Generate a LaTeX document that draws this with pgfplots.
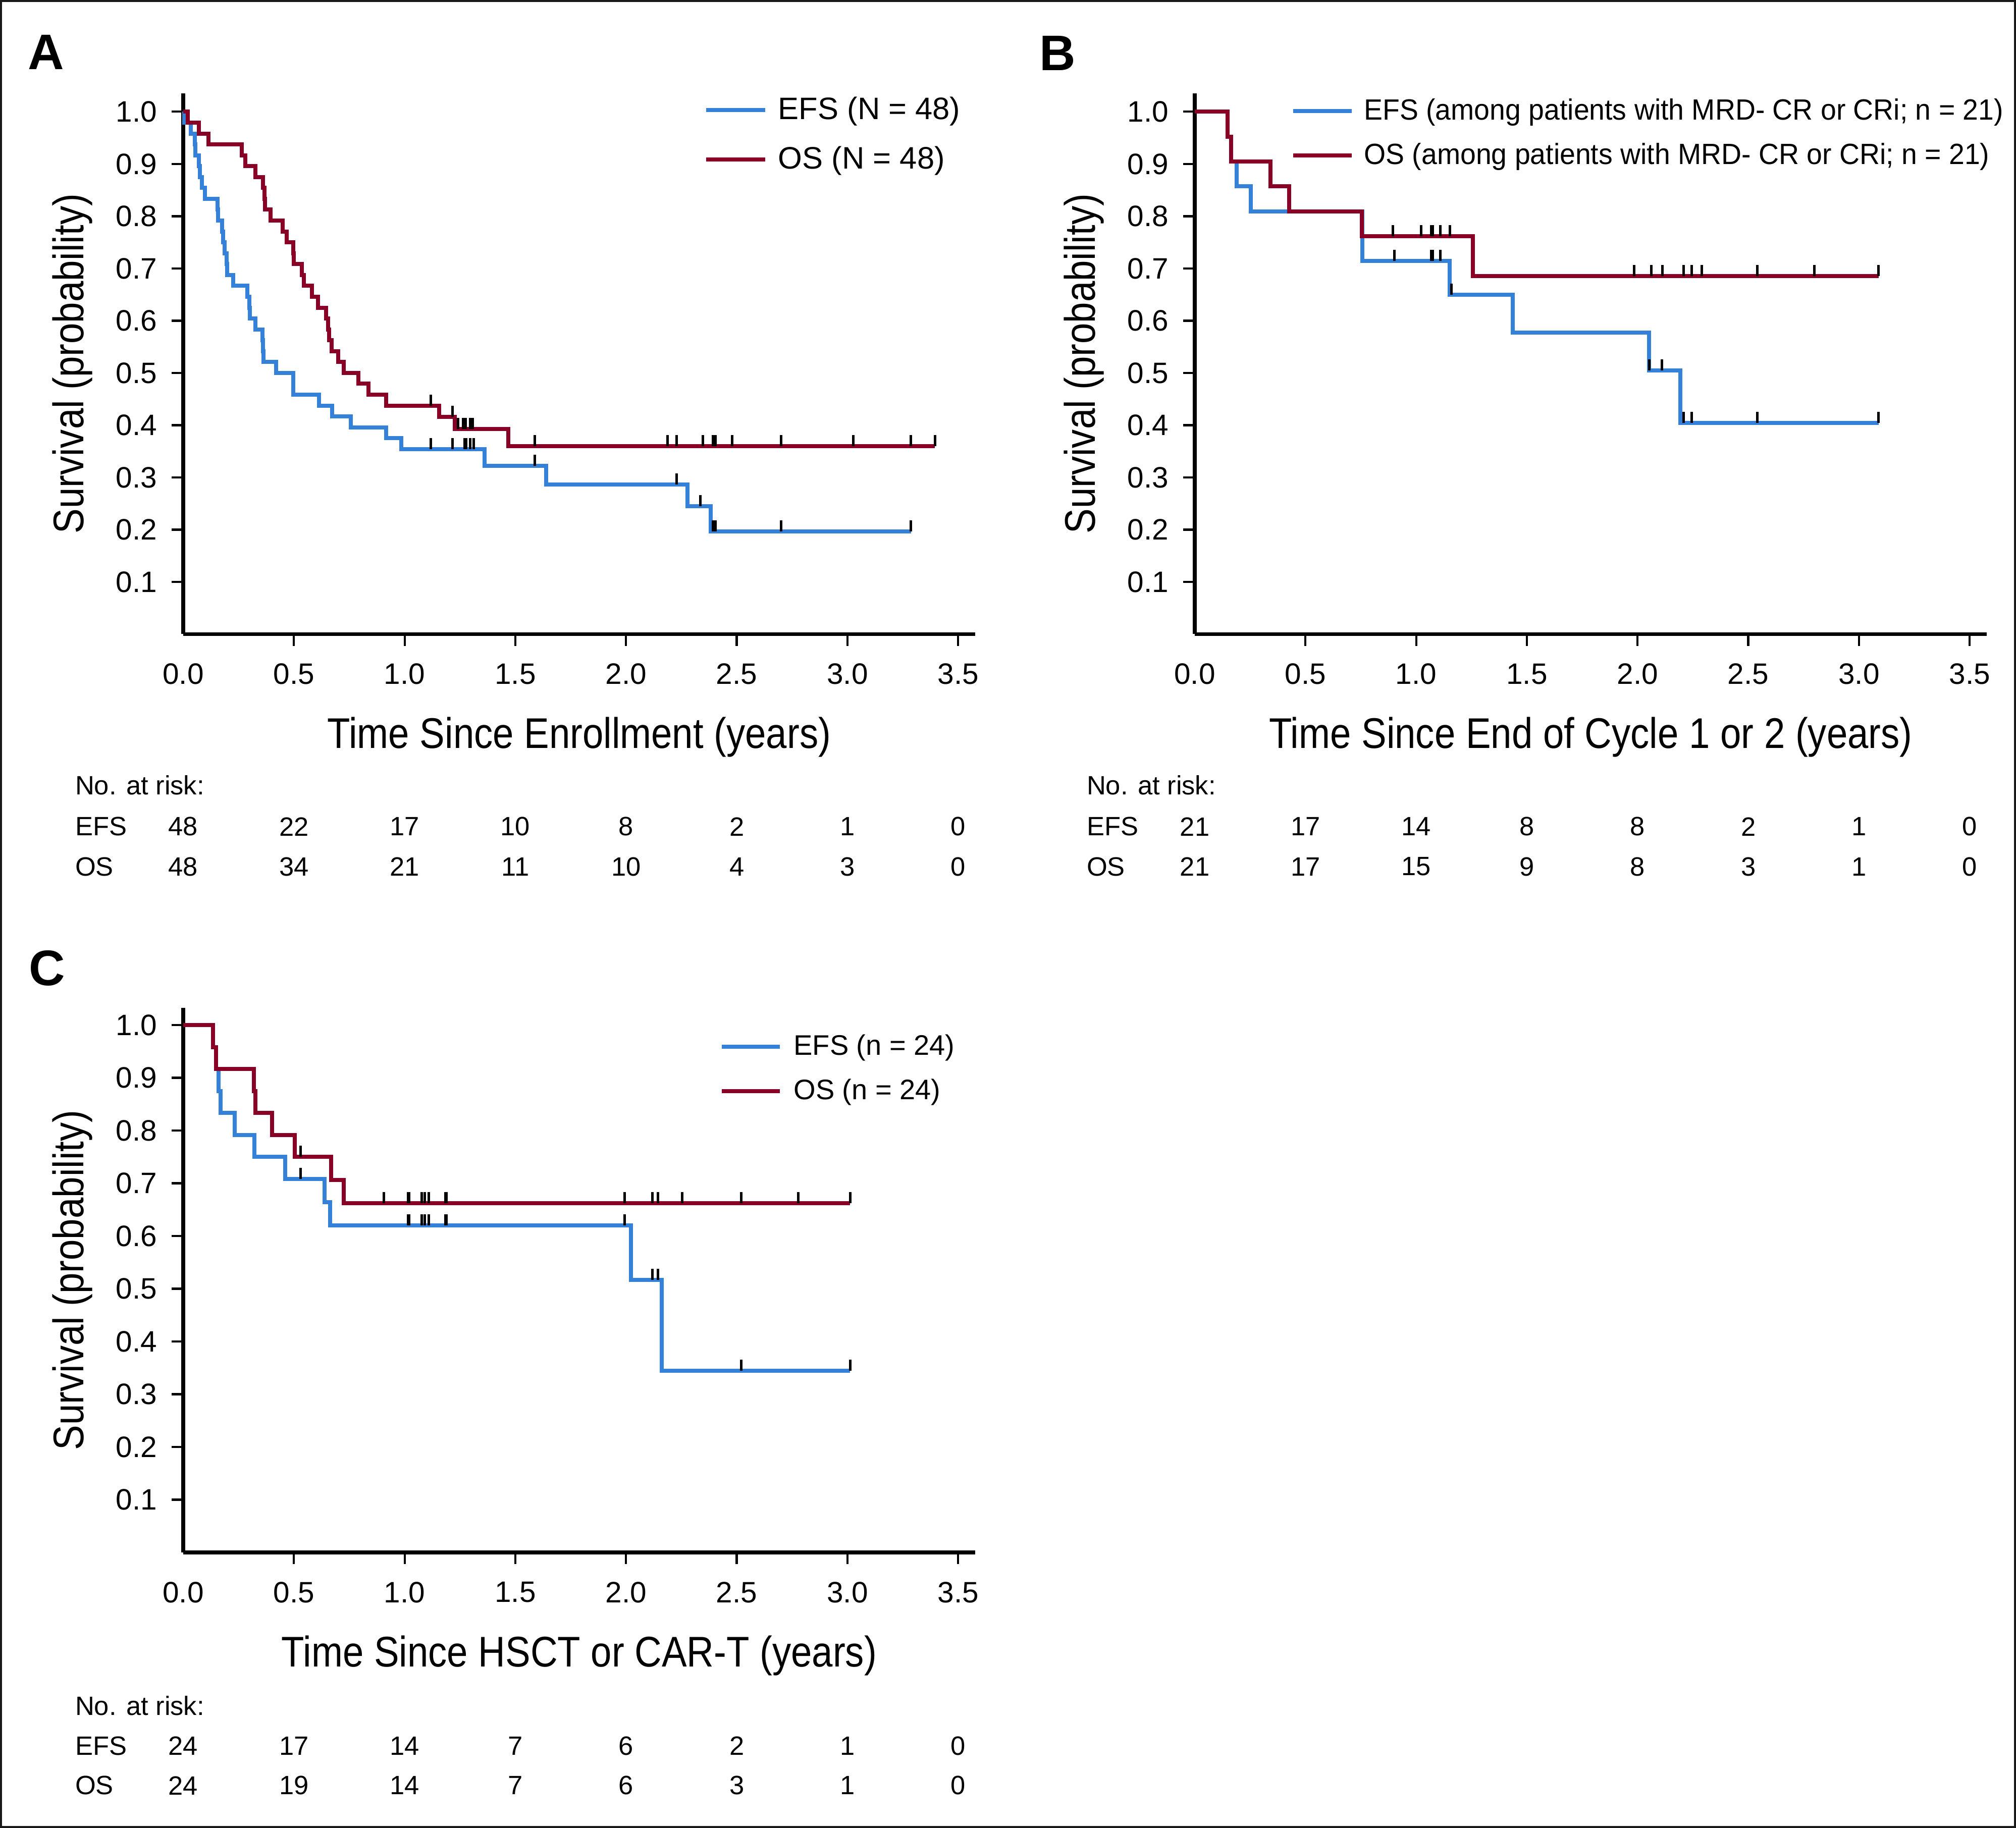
\documentclass[border=0pt]{standalone}
\usepackage{pgfplots}
\pgfplotsset{compat=1.18}
\usepackage{pgfplotstable}
\usepackage{fontspec}
\setmainfont{Liberation Sans}
\newfontfamily\condfont[FakeStretch=0.875]{Liberation Sans}
\newfontfamily\legBfont[FakeStretch=0.955]{Liberation Sans}
\definecolor{efsblue}{RGB}{53,129,216}
\definecolor{osred}{RGB}{137,0,38}
\pgfdeclareplotmark{cens}{\pgfpathmoveto{\pgfqpoint{0pt}{0pt}}\pgfpathlineto{\pgfqpoint{0pt}{4.4pt}}\pgfusepathqstroke}

% ---------------- Panel A ----------------
\pgfplotstableread{
t s
0 1.0
0.004 0.9792
0.035 0.9583
0.053 0.9375
0.055 0.9167
0.070 0.8958
0.076 0.8750
0.085 0.8542
0.097 0.8333
0.155 0.8125
0.157 0.7917
0.175 0.7708
0.180 0.7500
0.188 0.7292
0.197 0.7083
0.199 0.6875
0.226 0.6667
0.290 0.6458
0.298 0.6250
0.300 0.6042
0.327 0.5833
0.359 0.5625
0.360 0.5417
0.363 0.5208
0.420 0.5000
0.496 0.4792
0.498 0.4583
0.614 0.4375
0.672 0.4167
0.756 0.3958
0.916 0.3750
0.986 0.3542
1.361 0.3220
1.640 0.2862
2.277 0.2453
2.383 0.1963
3.287 0.1963
}\AEFS
\pgfplotstableread{
t s
1.119 0.3542
1.217 0.3542
1.271 0.3542
1.277 0.3542
1.296 0.3542
1.311 0.3542
1.587 0.3220
2.228 0.2862
2.336 0.2453
2.393 0.1963
2.404 0.1963
2.700 0.1963
3.287 0.1963
}\AEFSc
\pgfplotstableread{
t s
0 1.0
0.0205 0.9792
0.070 0.9583
0.114 0.9375
0.264 0.9167
0.280 0.8958
0.327 0.8750
0.360 0.8542
0.368 0.8333
0.370 0.8125
0.394 0.7917
0.450 0.7708
0.467 0.7500
0.497 0.7292
0.499 0.7083
0.535 0.6875
0.545 0.6667
0.581 0.6458
0.608 0.6250
0.646 0.6042
0.655 0.5833
0.659 0.5625
0.670 0.5417
0.699 0.5208
0.726 0.5000
0.790 0.4792
0.836 0.4583
0.916 0.4375
1.156 0.4156
1.227 0.3925
1.468 0.3598
3.395 0.3598
}\AOS
\pgfplotstableread{
t s
1.119 0.4375
1.217 0.4156
1.242 0.3925
1.264 0.3925
1.275 0.3925
1.295 0.3925
1.308 0.3925
1.587 0.3598
2.188 0.3598
2.228 0.3598
2.346 0.3598
2.393 0.3598
2.404 0.3598
2.479 0.3598
2.700 0.3598
3.026 0.3598
3.287 0.3598
3.395 0.3598
}\AOSc

% ---------------- Panel B ----------------
\pgfplotstableread{
t s
0 1.0
0.148 0.9524
0.164 0.9048
0.189 0.8571
0.254 0.8095
0.757 0.7143
1.151 0.6494
1.437 0.5772
2.051 0.5051
2.194 0.4040
3.089 0.4040
}\BEFS
\pgfplotstableread{
t s
0.901 0.7143
1.068 0.7143
1.074 0.7143
1.109 0.7143
1.160 0.6494
2.053 0.5051
2.110 0.5051
2.208 0.4040
2.245 0.4040
2.540 0.4040
3.089 0.4040
}\BEFSc
\pgfplotstableread{
t s
0 1.0
0.148 0.9524
0.164 0.9048
0.341 0.8571
0.427 0.8095
0.755 0.7619
1.257 0.6857
3.089 0.6857
}\BOS
\pgfplotstableread{
t s
0.895 0.7619
1.023 0.7619
1.068 0.7619
1.074 0.7619
1.109 0.7619
1.152 0.7619
1.984 0.6857
2.062 0.6857
2.112 0.6857
2.208 0.6857
2.245 0.6857
2.290 0.6857
2.540 0.6857
2.798 0.6857
3.089 0.6857
}\BOSc

% ---------------- Panel C ----------------
\pgfplotstableread{
t s
0 1.0
0.135 0.9583
0.148 0.9167
0.160 0.8750
0.168 0.8333
0.2335 0.7917
0.322 0.7500
0.461 0.7083
0.639 0.6641
0.6626 0.6198
2.023 0.5165
2.161 0.3443
3.012 0.3443
}\CEFS
\pgfplotstableread{
t s
0.530 0.7083
1.016 0.6198
1.021 0.6198
1.078 0.6198
1.090 0.6198
1.109 0.6198
1.184 0.6198
1.189 0.6198
1.993 0.6198
2.120 0.5165
2.145 0.5165
2.521 0.3443
3.012 0.3443
}\CEFSc
\pgfplotstableread{
t s
0 1.0
0.135 0.9583
0.148 0.9167
0.319 0.8750
0.326 0.8333
0.401 0.7917
0.504 0.7500
0.669 0.7059
0.724 0.6618
3.012 0.6618
}\COS
\pgfplotstableread{
t s
0.530 0.7500
0.906 0.6618
1.016 0.6618
1.021 0.6618
1.078 0.6618
1.090 0.6618
1.109 0.6618
1.184 0.6618
1.189 0.6618
1.993 0.6618
2.120 0.6618
2.145 0.6618
2.254 0.6618
2.521 0.6618
2.778 0.6618
3.012 0.6618
}\COSc

\newcommand{\rkfont}{\fontsize{10.5}{12}\selectfont}
\newcommand{\riskrow}[9]{%
  \node[anchor=center,font=\rkfont,inner sep=0pt] at (axis cs:0,#1) {#2};
  \node[anchor=center,font=\rkfont,inner sep=0pt] at (axis cs:0.5,#1) {#3};
  \node[anchor=center,font=\rkfont,inner sep=0pt] at (axis cs:1,#1) {#4};
  \node[anchor=center,font=\rkfont,inner sep=0pt] at (axis cs:1.5,#1) {#5};
  \node[anchor=center,font=\rkfont,inner sep=0pt] at (axis cs:2,#1) {#6};
  \node[anchor=center,font=\rkfont,inner sep=0pt] at (axis cs:2.5,#1) {#7};
  \node[anchor=center,font=\rkfont,inner sep=0pt] at (axis cs:3,#1) {#8};
  \node[anchor=center,font=\rkfont,inner sep=0pt] at (axis cs:3.5,#1) {#9};
}

\pgfplotsset{
  km/.style={
    scale only axis, width=313.8pt,
    axis lines=left,
    axis line style={-, line width=1.5pt, black},
    xmin=0, xmax=3.577, ymin=0,
    xtick={0.5,1,1.5,2,2.5,3,3.5},
    xticklabels={0.5,1.0,1.5,2.0,2.5,3.0,3.5},
    extra x ticks={0}, extra x tick labels={0.0},
    extra x tick style={major tick length=0pt, xticklabel style={yshift=-4.7pt}},
    ytick={0.1,0.2,0.3,0.4,0.5,0.6,0.7,0.8,0.9,1.0},
    yticklabels={0.1,0.2,0.3,0.4,0.5,0.6,0.7,0.8,0.9,1.0},
    tick align=outside, major tick length=4.7pt,
    tick style={line width=0.85pt, black},
    tick label style={font=\fontsize{11.7}{14}\selectfont},
    xticklabel style={yshift=-3.5pt},
    yticklabel style={xshift=-2.2pt},
    label style={font=\condfont\fontsize{17}{20}\selectfont},
    ylabel style={at={(axis description cs:-0.140,0.5)}, anchor=center},
    xlabel style={at={(axis description cs:0.5,-0.19)}, anchor=center},
    ylabel={Survival (probability)},
    clip=false,
    legend cell align=left,
    legend image code/.code={\draw[##1, line width=1.6pt] (0pt,0pt) -- (23.4pt,0pt);},
  },
  efs/.style={const plot, color=efsblue, line width=1.6pt, line join=miter},
  os/.style={const plot, color=osred, line width=1.6pt, line join=miter},
  cm/.style={only marks, mark=cens, mark options={line width=1.0pt, black}, forget plot},
}

\begin{document}
\begin{tikzpicture}[x=1pt,y=1pt]
\useasboundingbox (0,0) rectangle (798.8,724.4);
\draw[line width=0.8pt, black!90] (0.4,0.4) rectangle (798.4,724.0);
\node[anchor=base west, inner sep=0pt, font=\bfseries\fontsize{19.8}{22}\selectfont] at (11,696.8) {A};
\node[anchor=base west, inner sep=0pt, font=\bfseries\fontsize{19.8}{22}\selectfont] at (411.6,696.4) {B};
\node[anchor=base west, inner sep=0pt, font=\bfseries\fontsize{19.8}{22}\selectfont] at (11.2,333.8) {C};

% Panel A
\begin{axis}[km, at={(72.6pt,473.1pt)}, anchor=south west, height=214.3pt, ymax=1.0352,
  xlabel={Time Since Enrollment (years)},
  legend style={at={(axis description cs:0.6577,0.9935)}, anchor=north west, draw=none, fill=none,
    inner sep=0pt, outer sep=0pt, row sep=9.1pt, column sep=4.4pt,
    font=\fontsize{12.3}{14}\selectfont, nodes={inner sep=0pt}}]
\addplot[efs] table[x=t,y=s] {\AEFS};
\addlegendentry{EFS (N = 48)}
\addplot[os] table[x=t,y=s] {\AOS};
\addlegendentry{OS (N = 48)}
\addplot[cm] table[x=t,y=s] {\AEFSc};
\addplot[cm] table[x=t,y=s] {\AOSc};
\node[anchor=west,font=\rkfont,inner sep=0pt] at (axis cs:-0.49,-0.2895) {No. at risk:};
\node[anchor=west,font=\rkfont,inner sep=0pt] at (axis cs:-0.49,-0.3685) {EFS};
\node[anchor=west,font=\rkfont,inner sep=0pt] at (axis cs:-0.49,-0.445) {OS};
\riskrow{-0.3685}{48}{22}{17}{10}{8}{2}{1}{0}
\riskrow{-0.445}{48}{34}{21}{11}{10}{4}{3}{0}
\end{axis}

% Panel B
\begin{axis}[km, at={(473.4pt,473.1pt)}, anchor=south west, height=214.3pt, ymax=1.0352,
  xlabel={Time Since End of Cycle 1 or 2 (years)},
  legend style={at={(axis description cs:0.1217,0.9900)}, anchor=north west, draw=none, fill=none,
    inner sep=0pt, outer sep=0pt, row sep=7.6pt, column sep=4.1pt,
    font=\legBfont\fontsize{11.6}{14}\selectfont, nodes={inner sep=0pt}},
  legend image code/.code={\draw[#1, line width=1.6pt] (0pt,0pt) -- (23.2pt,0pt);}]
\addplot[efs] table[x=t,y=s] {\BEFS};
\addlegendentry{EFS (among patients with MRD- CR or CRi; n = 21)}
\addplot[os] table[x=t,y=s] {\BOS};
\addlegendentry{OS (among patients with MRD- CR or CRi; n = 21)}
\addplot[cm] table[x=t,y=s] {\BEFSc};
\addplot[cm] table[x=t,y=s] {\BOSc};
\node[anchor=west,font=\rkfont,inner sep=0pt] at (axis cs:-0.49,-0.2895) {No. at risk:};
\node[anchor=west,font=\rkfont,inner sep=0pt] at (axis cs:-0.49,-0.3685) {EFS};
\node[anchor=west,font=\rkfont,inner sep=0pt] at (axis cs:-0.49,-0.445) {OS};
\riskrow{-0.3685}{21}{17}{14}{8}{8}{2}{1}{0}
\riskrow{-0.445}{21}{17}{15}{9}{8}{3}{1}{0}
\end{axis}

% Panel C
\begin{axis}[km, at={(72.6pt,109.2pt)}, anchor=south west, height=215.8pt, ymax=1.0325,
  xlabel={Time Since HSCT or CAR-T (years)},
  legend style={at={(axis description cs:0.6775,0.9512)}, anchor=north west, draw=none, fill=none,
    inner sep=0pt, outer sep=0pt, row sep=8.1pt, column sep=4.7pt,
    font=\fontsize{11.2}{13}\selectfont, nodes={inner sep=0pt}},
  legend image code/.code={\draw[#1, line width=1.6pt] (0pt,0pt) -- (23pt,0pt);}]
\addplot[efs] table[x=t,y=s] {\CEFS};
\addlegendentry{EFS (n = 24)}
\addplot[os] table[x=t,y=s] {\COS};
\addlegendentry{OS (n = 24)}
\addplot[cm] table[x=t,y=s] {\CEFSc};
\addplot[cm] table[x=t,y=s] {\COSc};
\node[anchor=west,font=\rkfont,inner sep=0pt] at (axis cs:-0.49,-0.291) {No. at risk:};
\node[anchor=west,font=\rkfont,inner sep=0pt] at (axis cs:-0.49,-0.3665) {EFS};
\node[anchor=west,font=\rkfont,inner sep=0pt] at (axis cs:-0.49,-0.442) {OS};
\riskrow{-0.3665}{24}{17}{14}{7}{6}{2}{1}{0}
\riskrow{-0.442}{24}{19}{14}{7}{6}{3}{1}{0}
\end{axis}
\end{tikzpicture}
\end{document}
